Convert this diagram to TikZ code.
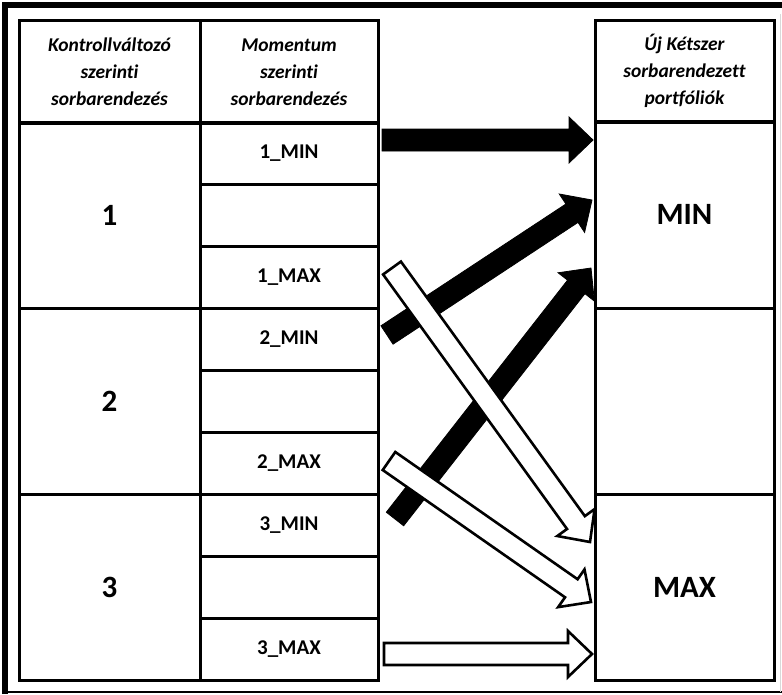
\documentclass[tikz,border=0pt]{standalone}
\usepackage{fontspec}
\setmainfont[Ligatures=NoCommon]{Carlito}
\usetikzlibrary{calc}

% block arrow from tail to tip: \blockarrow[style]{tail}{tip}{name}
\newcommand{\blockarrow}[4][]{%
	\coordinate (#4-h) at ($(#3)!24pt!(#2)$);
	\draw[#1] ($(#2)!11pt!90:(#3)$) -- ($(#4-h)!11pt!90:(#3)$) -- ($(#4-h)!23pt!90:(#3)$)
		-- (#3) -- ($(#4-h)!23pt!-90:(#3)$) -- ($(#4-h)!11pt!-90:(#3)$) -- ($(#2)!11pt!-90:(#3)$) -- cycle;
}

\begin{document}
\begin{tikzpicture}[x=1pt,y=-1pt,
		cell/.style={draw,line width=3pt,inner sep=0pt,outer sep=0pt},
		headtxt/.style={font=\fontsize{19.5}{27}\selectfont\bfseries\itshape,align=center},
		rowtxt/.style={font=\fontsize{21}{24}\selectfont\bfseries},
		bigtxt/.style={font=\fontsize{31}{36}\selectfont\bfseries},
		blackarrow/.style={fill=black,draw=black,line width=0.8pt,line join=miter},
		whitearrow/.style={fill=white,draw=black,line width=2.6pt,line join=miter},
		declare function={
			colK = 109.5;
			colM = 289;
			colU = 684.5;
			rowH = 62;
			topY = 122;
		}
		]
		\useasboundingbox (0,0) rectangle (782,694);
		\fill[white] (0,0) rectangle (782,694);
		% outer frame
		\draw[line width=6pt] (5,694) -- (5,5) -- (782,5);
		\draw[line width=2pt] (5,692) -- (782,692);
		\draw[gray!30,line width=1pt] (780,14) -- (780,692);
		% left table
		\node[cell,headtxt,minimum width=181,minimum height=103] (kh) at (colK,72) {Kontrollváltozó\\szerinti\\sorbarendezés};
		\node[cell,headtxt,minimum width=178,minimum height=103] (mh) at (colM,72) {Momentum\\szerinti\\sorbarendezés};
		\foreach \g in {1,2,3}{
			\pgfmathsetmacro{\y}{topY + (3*\g-1.5)*rowH}
			\node[cell,bigtxt,minimum width=181,minimum height=3*rowH] (k\g) at (colK,\y) {\g};
			\node[cell,rowtxt,minimum width=178,minimum height=rowH] (m\g-min) at (colM,\y-rowH) {\g\_MIN};
			\node[cell,minimum width=178,minimum height=rowH] (m\g-mid) at (colM,\y) {};
			\node[cell,rowtxt,minimum width=178,minimum height=rowH] (m\g-max) at (colM,\y+rowH) {\g\_MAX};
		}
		% right table
		\node[cell,headtxt,minimum width=179,minimum height=102] (uh) at (colU,71) {Új Kétszer\\sorbarendezett\\portfóliók};
		\node[cell,bigtxt,minimum width=179,minimum height=187] (umin) at (colU,214.5) {MIN};
		\node[cell,minimum width=179,minimum height=186] (umid) at (colU,401) {};
		\node[cell,bigtxt,minimum width=179,minimum height=186] (umax) at (colU,587) {MAX};
		% arrow ends
		\coordinate (t1min) at (382,140);
		\coordinate (t2min) at (387,335);
		\coordinate (t3min) at (395,519);
		\coordinate (t1max) at (392,268);
		\coordinate (t2max) at (389,461);
		\coordinate (t3max) at (384,654);
		\coordinate (p1) at (593,140);
		\coordinate (p2) at (592,200);
		\coordinate (p3) at (591,268);
		\coordinate (p4) at (590,542);
		\coordinate (p5) at (591,602);
		\coordinate (p6) at (592,654);
		% arrows
		\blockarrow[blackarrow]{t1min}{p1}{a1}
		\blockarrow[blackarrow]{t2min}{p2}{a2}
		\blockarrow[blackarrow]{t3min}{p3}{a3}
		\blockarrow[whitearrow]{t1max}{p4}{a4}
		\blockarrow[whitearrow]{t2max}{p5}{a5}
		\blockarrow[whitearrow]{t3max}{p6}{a6}
	\end{tikzpicture}
\end{document}
